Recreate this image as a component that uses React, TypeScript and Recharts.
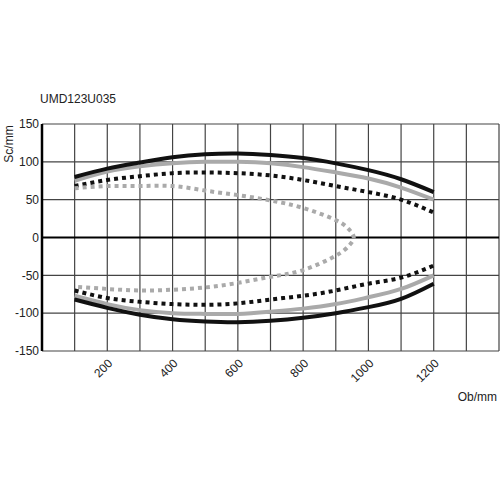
import React from 'react'
import {
  LineChart,
  Line,
  XAxis,
  YAxis,
  CartesianGrid,
  ReferenceLine,
} from 'recharts'

// object distance in mm, where the curves are sampled
const obValues = [100, 200, 300, 400, 500, 600, 700, 800, 900, 1000, 1100, 1200]

const blackUpper = [80, 91, 99, 106, 110, 111, 109, 105, 98, 89, 77, 60]
const blackLower = [-82, -93, -102, -108, -111, -112, -110, -106, -100, -92, -81, -61]
const grayUpper = [75, 87, 94, 98, 100, 100, 98, 93, 86, 78, 66, 50]
const grayLower = [-77, -88, -96, -100, -101, -101, -98, -94, -88, -79, -68, -50]
const blackDotUpper = [68, 76, 81, 85, 86, 85, 82, 76, 68, 60, 50, 33]
const blackDotLower = [-70, -80, -85, -88, -89, -87, -82, -77, -70, -61, -53, -37]

// the grey dotted curve turns back on itself, so it keeps its own x values
const grayDotX = [100, 200, 300, 400, 500, 600, 700, 800, 900, 940, 955, 940, 900, 800, 700, 600, 500, 400, 300, 200, 100]
const grayDotY = [65, 68, 68, 68, 62, 56, 49, 39, 23, 11, 0, -11, -24, -43, -52, -60, -66, -69, -70, -68, -65]

const xTicks = [0, 100, 200, 300, 400, 500, 600, 700, 800, 900, 1000, 1100, 1200, 1300, 1400]
const xLabels = [200, 400, 600, 800, 1000, 1200]
const yTicks = [-150, -100, -50, 0, 50, 100, 150]

const FONT = '"Liberation Sans", Arial, Helvetica, sans-serif'
const BLACK = '#111111'
const GRAY = '#aaaaaa'

const toPoints = (ys: number[]) => obValues.map((x, i) => ({ x, y: ys[i] }))
const grayDot = grayDotX.map((x, i) => ({ x, y: grayDotY[i] }))

function XTick({ x, y, payload }: any) {
  if (!xLabels.includes(payload.value)) return null
  return (
    <text
      transform={`translate(${x + 6},${y + 13}) rotate(-45)`}
      textAnchor="end"
      fontSize={12}
      fontFamily={FONT}
      fill="#222"
    >
      {payload.value}
    </text>
  )
}

export default function App() {
  const solid = { strokeWidth: 4, dot: false, isAnimationActive: false, type: 'natural' as const }
  const dotted = { ...solid, strokeDasharray: '4 4' }

  return (
    <div style={{ position: 'fixed', left: 0, top: 0, width: 500, height: 500, background: '#fff' }}>
      <LineChart width={500} height={500} margin={{ top: 124, right: 1, bottom: 119, left: 0 }}>
        <CartesianGrid stroke="#444" strokeWidth={1.2} />
        <XAxis
          type="number"
          dataKey="x"
          domain={[0, 1400]}
          ticks={xTicks}
          interval={0}
          height={30}
          axisLine={false}
          tickLine={false}
          tickSize={0}
          tickMargin={0}
          tick={<XTick />}
        />
        <YAxis
          type="number"
          domain={[-150, 150]}
          ticks={yTicks}
          width={42}
          axisLine={{ stroke: '#000', strokeWidth: 2.5 }}
          tickLine={false}
          tickSize={0}
          tickMargin={3}
          tick={{ fontSize: 12, fontFamily: FONT, fill: '#222' }}
        />
        <ReferenceLine y={0} stroke="#000" strokeWidth={2} />
        <Line data={toPoints(grayUpper)} dataKey="y" stroke={GRAY} {...solid} />
        <Line data={toPoints(grayLower)} dataKey="y" stroke={GRAY} {...solid} />
        <Line data={toPoints(blackUpper)} dataKey="y" stroke={BLACK} {...solid} />
        <Line data={toPoints(blackLower)} dataKey="y" stroke={BLACK} {...solid} />
        <Line data={toPoints(blackDotUpper)} dataKey="y" stroke={BLACK} {...dotted} />
        <Line data={toPoints(blackDotLower)} dataKey="y" stroke={BLACK} {...dotted} />
        <Line data={grayDot} dataKey="y" stroke={GRAY} {...dotted} />
      </LineChart>
      <svg
        width={500}
        height={500}
        style={{ position: 'absolute', left: 0, top: 0, pointerEvents: 'none' }}
        fontFamily={FONT}
        fontSize={12}
        fill="#222"
      >
        <text x={40} y={103}>UMD123U035</text>
        <text transform="translate(13,144) rotate(-90)" textAnchor="middle">Sc/mm</text>
        <text x={497} y={401} textAnchor="end">Ob/mm</text>
      </svg>
    </div>
  )
}
